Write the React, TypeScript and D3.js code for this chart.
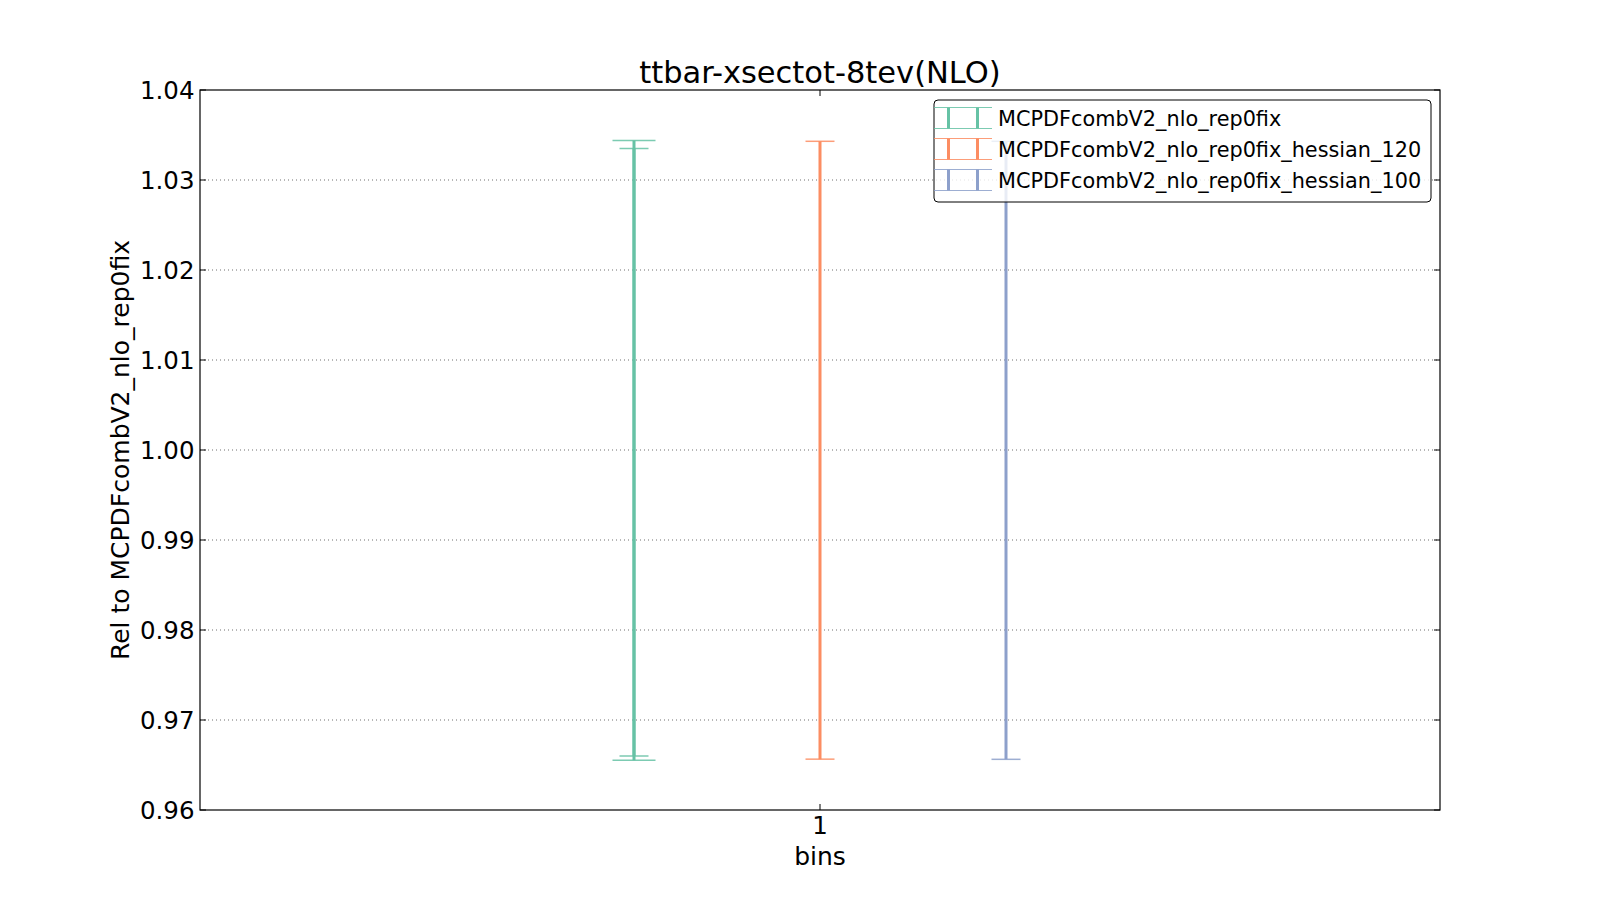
import React from "react";
import * as d3 from "d3";

const title = "ttbar-xsectot-8tev(NLO)";
const yLabel = "Rel to MCPDFcombV2_nlo_rep0fix";
const xLabel = "bins";
const seriesNames = [
  "MCPDFcombV2_nlo_rep0fix",
  "MCPDFcombV2_nlo_rep0fix_hessian_120",
  "MCPDFcombV2_nlo_rep0fix_hessian_100",
];
const seriesColors = ["#66c2a5", "#fc8d62", "#8da0cb"];
const xPositions = [0.85, 1.0, 1.15];
const upperValues = [1.0335, 1.0343, 1.0343];
const lowerValues = [0.966, 0.96565, 0.96563];
// outer (wider-capped) band of the first series
const outerUpper = [1.0344];
const outerLower = [0.96552];
const yTicks = [0.96, 0.97, 0.98, 0.99, 1.0, 1.01, 1.02, 1.03, 1.04];
const xTicks = [1];

const W = 1600;
const H = 900;
const M = { left: 200, right: 1440, top: 90, bottom: 810 };
const FONT = "'DejaVu Sans', sans-serif";
const TICK_FS = 24.5;
const LABEL_FS = 25;

export default function App() {
  const x = d3.scaleLinear().domain([0.5, 1.5]).range([M.left, M.right]);
  const y = d3.scaleLinear().domain([0.96, 1.04]).range([M.bottom, M.top]);
  const tickLen = 6;
  const capHalf = 14.5;
  const outerCapHalf = 21.5;

  const legX = 934;
  const legY = 100;
  const legW = 497;
  const legH = 102;
  const rowH = 31;

  return (
    <svg
      width={W}
      height={H}
      style={{ position: "absolute", left: 0, top: 0, background: "#fff" }}
      fontFamily={FONT}
    >
      <rect x={0} y={0} width={W} height={H} fill="#fff" />
      {/* grid */}
      {yTicks.slice(1, -1).map((t) => (
        <line
          key={"g" + t}
          x1={M.left}
          x2={M.right}
          y1={y(t)}
          y2={y(t)}
          stroke="#000"
          strokeWidth={0.7}
          strokeDasharray="1,3"
          opacity={0.8}
        />
      ))}
      {/* error bars */}
      {seriesNames.map((s, i) => (
        <g key={s} stroke={seriesColors[i]}>
          <line
            x1={x(xPositions[i])}
            x2={x(xPositions[i])}
            y1={y(upperValues[i])}
            y2={y(lowerValues[i])}
            strokeWidth={3}
          />
          <line
            x1={x(xPositions[i]) - capHalf}
            x2={x(xPositions[i]) + capHalf}
            y1={y(upperValues[i])}
            y2={y(upperValues[i])}
            strokeWidth={1.5}
            opacity={0.85}
          />
          <line
            x1={x(xPositions[i]) - capHalf}
            x2={x(xPositions[i]) + capHalf}
            y1={y(lowerValues[i])}
            y2={y(lowerValues[i])}
            strokeWidth={1.5}
            opacity={0.85}
          />
        </g>
      ))}
      {outerUpper.map((u, i) => (
        <g key={"o" + i} stroke={seriesColors[i]}>
          <line
            x1={x(xPositions[i])}
            x2={x(xPositions[i])}
            y1={y(u)}
            y2={y(outerLower[i])}
            strokeWidth={3}
          />
          <line
            x1={x(xPositions[i]) - outerCapHalf}
            x2={x(xPositions[i]) + outerCapHalf}
            y1={y(u)}
            y2={y(u)}
            strokeWidth={1.5}
            opacity={0.85}
          />
          <line
            x1={x(xPositions[i]) - outerCapHalf}
            x2={x(xPositions[i]) + outerCapHalf}
            y1={y(outerLower[i])}
            y2={y(outerLower[i])}
            strokeWidth={1.5}
            opacity={0.85}
          />
        </g>
      ))}
      {/* axes frame */}
      <rect
        x={M.left}
        y={M.top}
        width={M.right - M.left}
        height={M.bottom - M.top}
        fill="none"
        stroke="#000"
        strokeWidth={1.2}
      />
      {/* y ticks */}
      {yTicks.map((t) => (
        <g key={"y" + t}>
          <line x1={M.left} x2={M.left + tickLen} y1={y(t)} y2={y(t)} stroke="#000" strokeWidth={1} />
          <line x1={M.right} x2={M.right - tickLen} y1={y(t)} y2={y(t)} stroke="#000" strokeWidth={1} />
          <text x={M.left - 5.5} y={y(t) + 8.5} textAnchor="end" fontSize={TICK_FS} fill="#000">
            {d3.format(".2f")(t)}
          </text>
        </g>
      ))}
      {/* x ticks */}
      {xTicks.map((t) => (
        <g key={"x" + t}>
          <line x1={x(t)} x2={x(t)} y1={M.bottom} y2={M.bottom - tickLen} stroke="#000" strokeWidth={1} />
          <line x1={x(t)} x2={x(t)} y1={M.top} y2={M.top + tickLen} stroke="#000" strokeWidth={1} />
          <text x={x(t)} y={834} textAnchor="middle" fontSize={TICK_FS} fill="#000">
            {t}
          </text>
        </g>
      ))}
      <text x={(M.left + M.right) / 2} y={865} textAnchor="middle" fontSize={LABEL_FS} fill="#000">
        {xLabel}
      </text>
      <text
        transform={`translate(129, ${(M.top + M.bottom) / 2}) rotate(-90)`}
        textAnchor="middle"
        fontSize={LABEL_FS}
        fill="#000"
      >
        {yLabel}
      </text>
      <text x={(M.left + M.right) / 2} y={83} textAnchor="middle" fontSize={30.5} fill="#000">
        {title}
      </text>
      {/* legend */}
      <rect
        x={legX}
        y={legY}
        width={legW}
        height={legH}
        rx={4}
        fill="#fff"
        fillOpacity={0.8}
        stroke="#000"
        strokeWidth={1}
      />
      {seriesNames.map((s, i) => {
        const cy = legY + 18 + i * rowH;
        const top = cy - 10.5;
        const bot = cy + 10.5;
        return (
          <g key={"l" + s}>
            <g stroke={seriesColors[i]}>
              <line x1={legX} x2={legX + 58} y1={top} y2={top} strokeWidth={1} opacity={0.85} />
              <line x1={legX} x2={legX + 58} y1={bot} y2={bot} strokeWidth={1} opacity={0.85} />
              <line x1={legX + 14.5} x2={legX + 14.5} y1={top} y2={bot} strokeWidth={3} />
              <line x1={legX + 43.5} x2={legX + 43.5} y1={top} y2={bot} strokeWidth={3} />
            </g>
            <text x={998} y={cy + 7.5} fontSize={20.8} fill="#000">
              {s}
            </text>
          </g>
        );
      })}
    </svg>
  );
}
